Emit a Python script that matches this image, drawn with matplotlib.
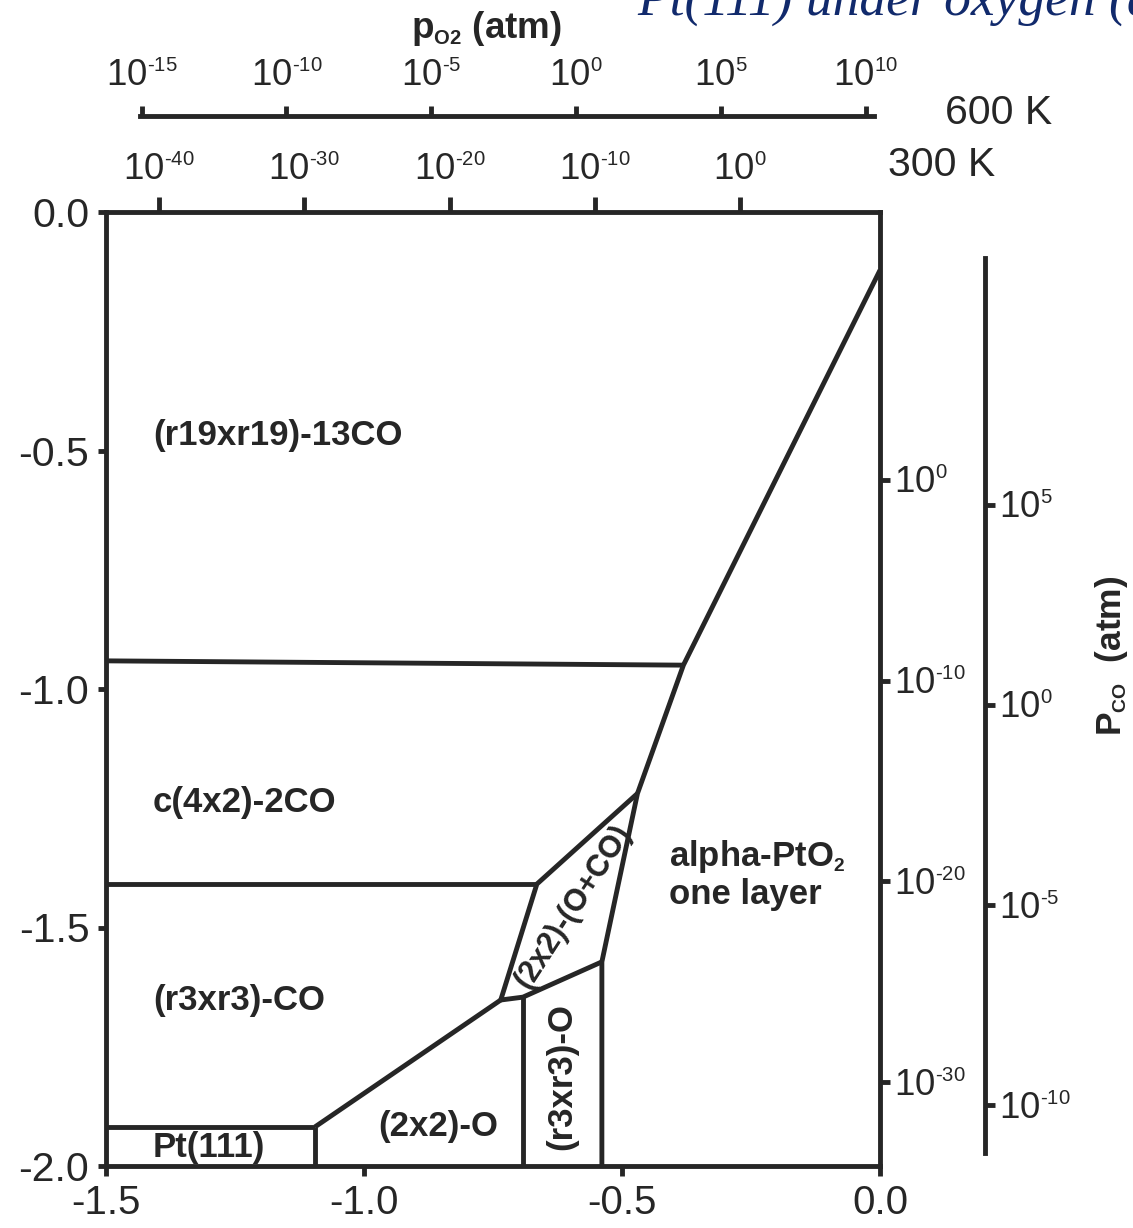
import matplotlib
matplotlib.use('Agg')
import matplotlib.pyplot as plt

try:
    # smaller super/subscripts for the decade labels
    import matplotlib._mathtext as _mt
    _mt.SHRINK_FACTOR = 0.55
except Exception:
    pass

plt.rcParams['font.family'] = ['Liberation Sans', 'DejaVu Sans']
plt.rcParams['mathtext.fontset'] = 'custom'
plt.rcParams['mathtext.rm'] = 'Liberation Sans'
plt.rcParams['mathtext.it'] = 'Liberation Sans:italic'
plt.rcParams['mathtext.bf'] = 'Liberation Sans:bold'
plt.rcParams['axes.unicode_minus'] = False

INK = '#262626'
NAVY = '#112a6c'
LW = 3.5

# ---- axis ticks (chemical potentials, eV) ----
mu_o_ticks = [-1.5, -1.0, -0.5, 0.0]
mu_co_ticks = [0.0, -0.5, -1.0, -1.5, -2.0]

# ---- pressure scales: decades shown and (mu at 1 atm, eV per decade) ----
p_o2_600_decades = [-15, -10, -5, 0, 5, 10]
p_o2_300_decades = [-40, -30, -20, -10, 0]
p_co_inner_decades = [0, -10, -20, -30]
p_co_outer_decades = [5, 0, -5, -10]
p_o2_600_scale = (-0.589, 0.05612)
p_o2_300_scale = (-0.2713, 0.02815)
p_co_inner_scale = (-0.5618, 0.04207)
p_co_outer_scale = (-1.0335, 0.0839)

# ---- phase boundaries (mu_O, mu_CO) ----
oxide_x = [0.0, -0.381, -0.470, -0.539, -0.539]
oxide_y = [-0.122, -0.950, -1.219, -1.572, -2.0]
r19_c42_x = [-1.5, -0.381]
r19_c42_y = [-0.941, -0.950]
c42_r3co_x = [-1.5, -0.665]
c42_r3co_y = [-1.409, -1.409]
mixed_left_x = [-0.470, -0.665, -0.735]
mixed_left_y = [-1.219, -1.409, -1.652]
mixed_bottom_x = [-0.735, -0.692, -0.539]
mixed_bottom_y = [-1.652, -1.646, -1.572]
r3o_left_x = [-0.692, -0.692]
r3o_left_y = [-1.646, -2.0]
o2x2_top_x = [-0.735, -1.095]
o2x2_top_y = [-1.652, -1.918]
clean_top_x = [-1.5, -1.095]
clean_top_y = [-1.918, -1.918]
clean_right_x = [-1.095, -1.095]
clean_right_y = [-1.918, -2.0]

boundaries = [
    (oxide_x, oxide_y), (r19_c42_x, r19_c42_y), (c42_r3co_x, c42_r3co_y),
    (mixed_left_x, mixed_left_y), (mixed_bottom_x, mixed_bottom_y),
    (r3o_left_x, r3o_left_y), (o2x2_top_x, o2x2_top_y),
    (clean_top_x, clean_top_y), (clean_right_x, clean_right_y),
]

# ---- phase labels ----
phase_names = ['(r19xr19)-13CO', 'c(4x2)-2CO', '(r3xr3)-CO', 'Pt(111)',
               '(2x2)-O', '(r3xr3)-O', '(2x2)-(O+CO)',
               'alpha-PtO$_\\mathbf{2}$', 'one layer']
phase_x = [-1.409, -1.409, -1.409, -1.409, -0.857, -0.616, -0.595, -0.408, -0.408]
phase_y = [-0.468, -1.237, -1.654, -1.962, -1.918, -1.813, -1.457, -1.352, -1.430]
phase_rot = [0, 0, 0, 0, 0, 90, 57, 0, 0]
phase_ha = ['left', 'left', 'left', 'left', 'center', 'center', 'center', 'left', 'left']
phase_size = [25, 25, 25, 25, 25, 25, 22, 25, 25]

W, H = 1133, 1228
fig = plt.figure(figsize=(W / 100, H / 100), dpi=100)

L, R, T, B = 106, 880, 212, 1166
pos = [L / W, 1 - B / H, (R - L) / W, (B - T) / H]
ax = fig.add_axes(pos)
ax.set_xlim(-1.5, 0.0)
ax.set_ylim(-2.0, 0.0)
for s in ax.spines.values():
    s.set_linewidth(LW)
    s.set_color(INK)
ax.set_xticks(mu_o_ticks)
ax.set_xticklabels(['%.1f' % v for v in mu_o_ticks])
ax.set_yticks(mu_co_ticks)
ax.set_yticklabels(['%.1f' % v for v in mu_co_ticks])
ax.tick_params(axis='x', direction='out', length=7, width=LW, color=INK,
               labelsize=29, labelcolor=INK, pad=6)
ax.tick_params(axis='y', direction='out', length=6, width=LW, color=INK,
               labelsize=29.5, labelcolor=INK, pad=6)

for bx, by in boundaries:
    ax.plot(bx, by, color=INK, lw=LW, solid_joinstyle='miter',
            solid_capstyle='butt', clip_on=False)

for name, px, py, rot, ha, fs in zip(phase_names, phase_x, phase_y, phase_rot,
                                     phase_ha, phase_size):
    ax.text(px, py, name, fontsize=fs, fontweight='bold', color=INK,
            rotation=rot, ha=ha, va='center', rotation_mode='anchor')


def decade_label(d):
    return r'$\mathregular{10}^{\text{%d}}$' % d


def to_mu(decades, scale):
    mu0, slope = scale
    return [mu0 + slope * d for d in decades]


DEC_FS = 26.5

# ---- O2 pressure scale at 300 K (on the top spine) ----
ax300 = fig.add_axes(pos)
ax300.set_xlim(-1.5, 0.0)
ax300.patch.set_visible(False)
for s in ax300.spines.values():
    s.set_visible(False)
ax300.set_yticks([])
ax300.xaxis.tick_top()
ax300.set_xticks(to_mu(p_o2_300_decades, p_o2_300_scale))
ax300.set_xticklabels([decade_label(d) for d in p_o2_300_decades])
ax300.tick_params(axis='x', direction='out', length=11, width=LW, color=INK,
                  labelsize=DEC_FS, labelcolor=INK, pad=6)

# ---- O2 pressure scale at 600 K ----
y600 = 116
ax600 = fig.add_axes([L / W, 1 - y600 / H, (R - L) / W, 0.0001])
ax600.set_xlim(-1.5, 0.0)
ax600.patch.set_visible(False)
for k, s in ax600.spines.items():
    s.set_visible(k == 'top')
ax600.spines['top'].set_linewidth(LW)
ax600.spines['top'].set_color(INK)
ax600.spines['top'].set_bounds(to_mu([-15.07], p_o2_600_scale)[0],
                               to_mu([10.3], p_o2_600_scale)[0])
ax600.set_yticks([])
ax600.xaxis.tick_top()
ax600.set_xticks(to_mu(p_o2_600_decades, p_o2_600_scale))
ax600.set_xticklabels([decade_label(d) for d in p_o2_600_decades])
ax600.tick_params(axis='x', direction='out', length=7, width=LW, color=INK,
                  labelsize=DEC_FS, labelcolor=INK, pad=9)

# ---- CO pressure scale on the right spine ----
axc1 = fig.add_axes(pos)
axc1.set_ylim(-2.0, 0.0)
axc1.patch.set_visible(False)
for s in axc1.spines.values():
    s.set_visible(False)
axc1.set_xticks([])
axc1.yaxis.tick_right()
axc1.set_yticks(to_mu(p_co_inner_decades, p_co_inner_scale))
axc1.set_yticklabels([decade_label(d) for d in p_co_inner_decades])
axc1.tick_params(axis='y', direction='out', length=7, width=LW, color=INK,
                 labelsize=DEC_FS, labelcolor=INK, pad=3)

# ---- second CO pressure scale ----
xc2 = 985
axc2 = fig.add_axes([L / W, 1 - B / H, (xc2 - L) / W, (B - T) / H])
axc2.set_ylim(-2.0, 0.0)
axc2.patch.set_visible(False)
for k, s in axc2.spines.items():
    s.set_visible(k == 'right')
axc2.spines['right'].set_linewidth(LW)
axc2.spines['right'].set_color(INK)
axc2.spines['right'].set_bounds(-1.973, -0.096)
axc2.set_xticks([])
axc2.yaxis.tick_right()
axc2.set_yticks(to_mu(p_co_outer_decades, p_co_outer_scale))
axc2.set_yticklabels([decade_label(d) for d in p_co_outer_decades])
axc2.tick_params(axis='y', direction='out', length=7, width=LW, color=INK,
                 labelsize=DEC_FS, labelcolor=INK, pad=3)

# ---- axis titles ----
fig.text(486 / W, 1 - 28 / H, r'p$_{\mathbf{O2}}$ (atm)', fontsize=26.5,
         fontweight='bold', color=INK, ha='center', va='center')
fig.text(945 / W, 1 - 113 / H, '600 K', fontsize=29.5, color=INK,
         ha='left', va='center')
fig.text(888 / W, 1 - 165 / H, '300 K', fontsize=29.5, color=INK,
         ha='left', va='center')
fig.text(1111 / W, 1 - 656 / H, r'P$_{\mathregular{CO}}$  (atm)', fontsize=25.5,
         fontweight='bold', color=INK, ha='center', va='center', rotation=90)

fig.text(637 / W, 1 - 15 / H, 'Pt(111) under oxygen (and CO)',
         fontsize=38.5, style='italic', color=NAVY,
         family=['Liberation Serif', 'DejaVu Serif'],
         ha='left', va='baseline')

fig.savefig('out.png', dpi=100)
